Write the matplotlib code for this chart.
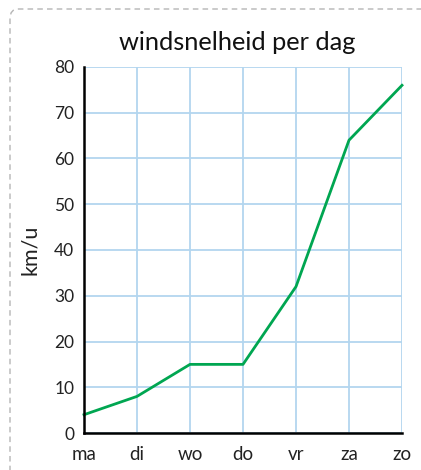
import matplotlib
matplotlib.use("Agg")
import matplotlib.pyplot as plt
from matplotlib.patches import FancyBboxPatch

# data
dagen = ["ma", "di", "wo", "do", "vr", "za", "zo"]
windsnelheid = [4, 8, 15, 15, 32, 64, 76]
y_ticks = [0, 10, 20, 30, 40, 50, 60, 70, 80]

plt.rcParams['font.family'] = ['Lato', 'DejaVu Sans']

fig = plt.figure(figsize=(4.21, 4.70), dpi=100)

# gestippelde rand rond de grafiek
rand = FancyBboxPatch((10 / 421, -0.1), 1.2, (470 - 9) / 470 + 0.1,
                      boxstyle="round,pad=0,rounding_size=0.02",
                      transform=fig.transFigure, fill=False,
                      edgecolor="#b5b5b5", linestyle=(0, (4, 3)), linewidth=1)
fig.patches.append(rand)

ax = fig.add_axes([84 / 421, 37 / 470, 318 / 421, 366 / 470])
x = list(range(len(dagen)))
ax.plot(x, windsnelheid, color="#00a651", linewidth=2.0, zorder=3, clip_on=False)

ax.set_xlim(0, len(dagen) - 1)
ax.set_ylim(0, 80)
ax.set_xticks(x)
ax.set_xticklabels(dagen, fontsize=13.5, color="#222222")
ax.set_yticks(y_ticks)
ax.set_yticklabels([str(t) for t in y_ticks], fontsize=12.5, color="#222222")
ax.tick_params(axis="x", length=0, pad=9)
ax.tick_params(axis="y", length=0, pad=7)

ax.grid(True, color="#b3d6ef", linewidth=1.3)
ax.set_axisbelow(True)
for s in ["top", "right"]:
    ax.spines[s].set_visible(False)
ax.spines["left"].set_linewidth(1.8)
ax.spines["bottom"].set_linewidth(1.8)
ax.spines["left"].set_zorder(4)
ax.spines["bottom"].set_zorder(4)

ax.set_ylabel("km/u", fontsize=15.5, color="#222222", labelpad=10)
fig.text(237 / 421, 1 - 42 / 470, "windsnelheid per dag", fontsize=18.3,
         ha="center", va="center", color="#111111")

fig.savefig("out.png", dpi=100)
